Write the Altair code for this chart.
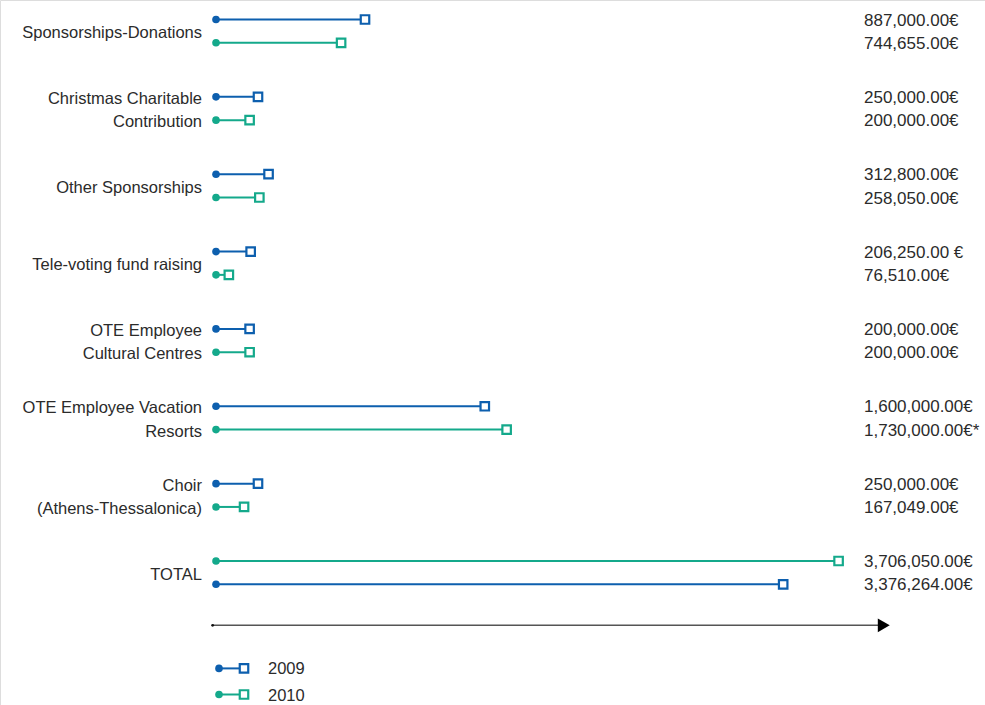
import altair as alt
import pandas as pd

# Budget lines (group label, two-line labels use "\n")
groups = [
    "Sponsorships-Donations",
    "Christmas Charitable\nContribution",
    "Other Sponsorships",
    "Tele-voting fund raising",
    "OTE Employee\nCultural Centres",
    "OTE Employee Vacation\nResorts",
    "Choir\n(Athens-Thessalonica)",
    "TOTAL",
]

# Amounts in euros, top row then bottom row of each group
top_values = [887000, 250000, 312800, 206250, 200000, 1600000, 250000, 3706050]
bottom_values = [744655, 200000, 258050, 76510, 200000, 1730000, 167049, 3376264]
top_series = ["2009", "2009", "2009", "2009", "2009", "2009", "2009", "2010"]
bottom_series = ["2010", "2010", "2010", "2010", "2010", "2010", "2010", "2009"]
top_labels = ["887,000.00€", "250,000.00€", "312,800.00€", "206,250.00 €",
              "200,000.00€", "1,600,000.00€", "250,000.00€", "3,706,050.00€"]
bottom_labels = ["744,655.00€", "200,000.00€", "258,050.00€", "76,510.00€",
                 "200,000.00€", "1,730,000.00€*", "167,049.00€", "3,376,264.00€"]

series = ["2009", "2010"]
colors = ["#0d5fae", "#14a98b"]

GROUP_STEP = 3.32   # vertical distance between groups, in row units
ROW_STEP = 1.0
FONT = "Liberation Sans"
TEXT_COLOR = "#2b2b2b"

rows = []
for g, name in enumerate(groups):
    for s, (v, ser, lab) in enumerate([(top_values[g], top_series[g], top_labels[g]),
                                       (bottom_values[g], bottom_series[g], bottom_labels[g])]):
        rows.append({"group": name, "pos": g * GROUP_STEP + s * ROW_STEP,
                     "start": 0, "value": v, "series": ser, "label": lab})
df = pd.DataFrame(rows)

# Two-line labels start on the top row; single-line labels sit between the rows
grp_df = pd.DataFrame({
    "group": groups,
    "pos": [g * GROUP_STEP + (0.0 if "\n" in name else 0.5) for g, name in enumerate(groups)],
})

x_scale = alt.Scale(domain=[0, 4030000], range=[216, 893], nice=False, zero=False)
y_scale = alt.Scale(domain=[0, 30], range=[19.5, 718.5], nice=False, zero=False)
color_scale = alt.Scale(domain=series, range=colors)

X = lambda f: alt.X(f, type="quantitative", scale=x_scale, axis=None)
Y = alt.Y("pos:Q", scale=y_scale, axis=None)
C = alt.Color("series:N", scale=color_scale, legend=None)

base = alt.Chart(df)

lines = base.mark_rule(strokeWidth=2).encode(x=X("start"), x2="value", y=Y, color=C)
dots = base.mark_circle(size=58, opacity=1).encode(x=X("start"), y=Y, color=C)
squares = base.mark_square(size=72, filled=False, fill="white", strokeWidth=2.2, opacity=1).encode(
    x=X("value"), y=Y, color=C)
values = base.mark_text(align="left", baseline="middle", font=FONT, dy=1,
                        fontSize=17, color=TEXT_COLOR).encode(
    x=alt.value(864), y=Y, text="label:N")

group_labels = alt.Chart(grp_df).mark_text(
    align="right", baseline="middle", font=FONT, fontSize=16.5, dy=2,
    color=TEXT_COLOR, lineBreak="\n", lineHeight=23.5).encode(
    x=alt.value(202), y=Y, text="group:N")

# Horizontal arrow axis beneath the chart
axis_df = pd.DataFrame({"pos": [26.0], "start": [-20000], "end": [3975000]})
axis_line = alt.Chart(axis_df).mark_rule(strokeWidth=1.6, color="#555555").encode(
    x=X("start"), x2="end", y=Y)
axis_tail = alt.Chart(axis_df).mark_circle(size=8, color="#111111", opacity=1).encode(
    x=X("start"), y=Y)
axis_head = alt.Chart(axis_df).mark_point(shape="triangle-right", filled=True, size=190,
                                          color="#000000", opacity=1).encode(
    x=X("end"), y=Y)

# Legend drawn from the series list
leg_df = pd.DataFrame({"series": series, "pos": [27.85, 28.97]})
leg_base = alt.Chart(leg_df)
leg_line = leg_base.mark_rule(strokeWidth=2).encode(
    x=alt.value(219), x2=alt.value(244), y=Y, color=C)
leg_dot = leg_base.mark_circle(size=58, opacity=1).encode(x=alt.value(219), y=Y, color=C)
leg_sq = leg_base.mark_square(size=72, filled=False, fill="white", strokeWidth=2.2, opacity=1).encode(
    x=alt.value(244), y=Y, color=C)
leg_txt = leg_base.mark_text(align="left", baseline="middle", font=FONT, dy=1,
                             fontSize=16.5, color=TEXT_COLOR).encode(
    x=alt.value(268), y=Y, text="series:N")

chart = alt.layer(
    axis_line, axis_tail, axis_head,
    lines, dots, squares, values, group_labels,
    leg_line, leg_dot, leg_sq, leg_txt,
).properties(
    width=985, height=705, padding=0,
    autosize=alt.AutoSizeParams(type="none"),
).configure_view(stroke=None).configure(background="white")

chart.save("out.html", embed_options={"renderer": "svg", "actions": False})
